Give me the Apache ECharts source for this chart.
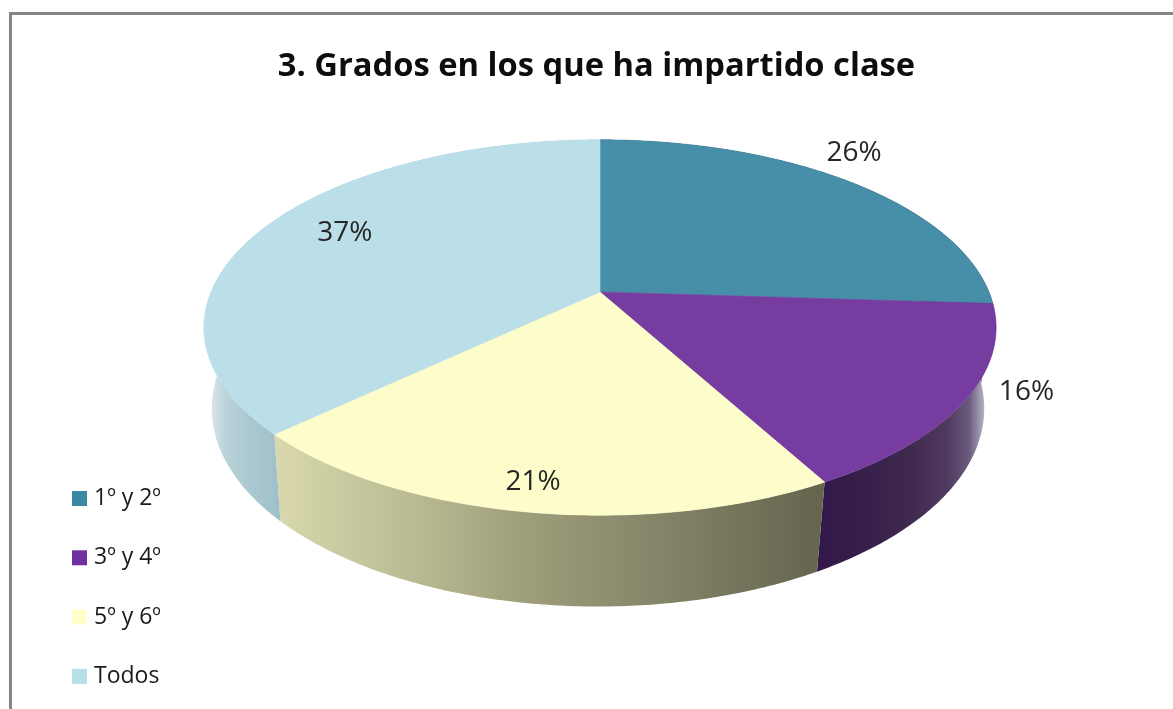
<!DOCTYPE html>
<html>
<head>
<meta charset="utf-8">
<style>html,body{margin:0;padding:0;background:#fff}#c{width:1173px;height:709px;filter:blur(0.5px)}</style>
<script src="https://cdn.jsdelivr.net/npm/echarts@6/dist/echarts.min.js"></script>
</head>
<body>
<div id="c"></div>
<script>
const titleText = '3. Grados en los que ha impartido clase';
const categories = ['1º y 2º', '3º y 4º', '5º y 6º', 'Todos'];
const values = [26, 16, 21, 37];
const topColors = ['#478fa8', '#763c9f', '#fdfccb', '#bbdfe8'];
const legendColors = ['#3a89a3', '#7030a0', '#ffffcc', '#b7dfe8'];
const wallStops = [
  [[820, '#33184a'], [990, '#33184a']],
  [[820, '#33184a'], [863, '#36204a'], [913, '#402a50'], [947, '#503a5f'], [969, '#6a5a7c'], [980, '#a099b0'], [992, '#e0dbe6']],
  [[278, '#d8d8ac'], [400, '#bebe96'], [500, '#a3a37f'], [650, '#86866a'], [816, '#66664f']],
  [[206, '#e6eff2'], [215, '#d0e1e7'], [225, '#bbd3da'], [250, '#aac8d1'], [278, '#9fc0ca']]
];
const labelNudge = [[3, -29], [61, -8], [8, -30], [77, 8]];

// Perspective disc: apex, half sizes, tilt; wall ellipse
const view = { cx: 600, cy: 292, a: 389, b: 181, k: 0.189, eCy: 327, wallCx: 598, wallCy: 408, sx: 0.975, sy: 1.055 };

function project(theta) {
  const u = Math.sin(theta), v = -Math.cos(theta), w = 1 - view.k * v;
  return [view.cx + view.a * u / w, view.cy + view.b * v / w];
}
function lower(p) {
  return [view.wallCx + (p[0] - view.cx) * view.sx, view.wallCy + (p[1] - view.eCy) * view.sy];
}
function arc(a0, a1) {
  const n = Math.max(8, Math.ceil(Math.abs(a1 - a0) * 90)), out = [];
  for (let i = 0; i <= n; i++) out.push(project(a0 + (a1 - a0) * i / n));
  return out;
}

const total = values.reduce((s, x) => s + x, 0);
let running = 0;
const series = categories.map((name, idx) => {
  const start = running, end = running + values[idx];
  running = end;
  return {
    type: 'custom',
    name: name,
    coordinateSystem: 'none',
    silent: true,
    animation: false,
    clip: false,
    itemStyle: { color: legendColors[idx] },
    data: [[start, end, values[idx]]],
    renderItem: function (params, api) {
      const a0 = api.value(0) / total * Math.PI * 2;
      const a1 = api.value(1) / total * Math.PI * 2;
      const rim = arc(a0, a1);
      const wall = rim.concat(rim.slice().reverse().map(lower));
      const stops = wallStops[idx];
      const x0 = stops[0][0], x1 = stops[stops.length - 1][0];
      const gradient = new echarts.graphic.LinearGradient(x0, 0, x1, 0,
        stops.map(s => ({ offset: (s[0] - x0) / (x1 - x0), color: s[1] })), true);
      const mid = project((a0 + a1) / 2);
      return {
        type: 'group',
        children: [
          { type: 'polygon', z2: 1, shape: { points: wall }, style: { fill: gradient } },
          { type: 'polygon', z2: 10, shape: { points: [[view.cx, view.cy]].concat(rim) },
            style: { fill: topColors[idx], stroke: topColors[idx], lineWidth: 0.6 } },
          { type: 'text', z2: 20, style: {
              x: mid[0] + labelNudge[idx][0], y: mid[1] + labelNudge[idx][1],
              text: api.value(2) + '%', fill: '#262626', align: 'center', verticalAlign: 'middle',
              font: '28px "Open Sans"' } }
        ]
      };
    }
  };
});

const chart = echarts.init(document.getElementById('c'), null, { renderer: 'canvas' });
chart.setOption({
  backgroundColor: '#ffffff',
  animation: false,
  title: {
    text: titleText, left: 591.5, top: 62, textAlign: 'center', textVerticalAlign: 'middle',
    textStyle: { fontFamily: '"Open Sans"', fontWeight: 'bold', fontSize: 32.7, color: '#0d0d0d' }
  },
  legend: {
    orient: 'vertical', left: 72, top: 487, padding: 0, icon: 'rect', itemWidth: 15, itemHeight: 15,
    itemGap: 36.3, selectedMode: false, data: categories,
    textStyle: { fontFamily: '"Open Sans"', fontSize: 23, color: '#1a1a1a', padding: [0, 0, 0, 2] }
  },
  graphic: [
    { type: 'rect', silent: true, shape: { x: 9, y: 12, width: 1164, height: 3 }, style: { fill: '#868686' } },
    { type: 'rect', silent: true, shape: { x: 9, y: 12, width: 3, height: 697 }, style: { fill: '#868686' } }
  ],
  series: series
});
</script>
</body>
</html>
